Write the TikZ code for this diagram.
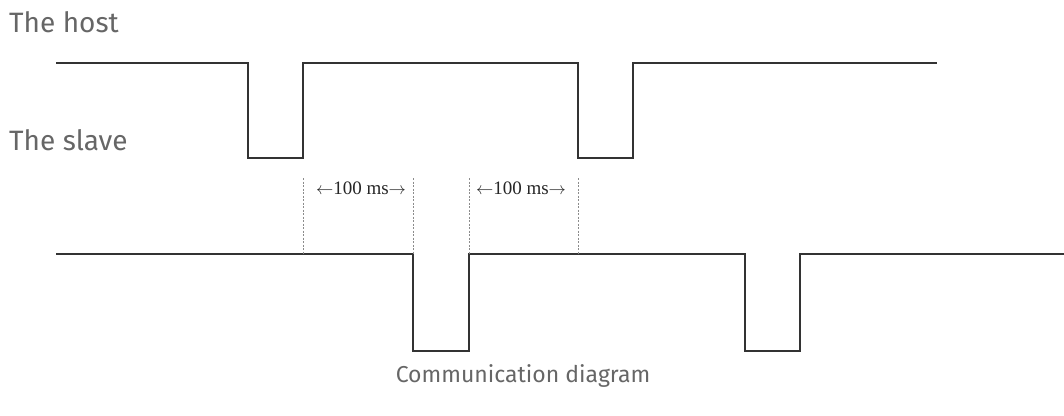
\documentclass[tikz,border=0pt]{standalone}
\usepackage{fontspec}
\setmainfont{Fira Sans}
\newfontfamily\serifnum{Liberation Serif}
\begin{document}
\begin{tikzpicture}[x=1pt,y=-1pt,
  wave/.style={draw=black!80,line width=1.8pt,line join=miter},
  guide/.style={draw=black!45,line width=0.6pt,dash pattern=on 2pt off 1.5pt},
  label/.style={text=black!60,font=\fontsize{28}{32}\selectfont,inner sep=0pt,anchor=base west},
  dur/.style={font=\serifnum\fontsize{19}{21}\selectfont,inner sep=0pt,text=black!85}]
\useasboundingbox (0,0) rectangle (1064,415);
% host waveform
\draw[wave] (56,63) -- (248,63) -- (248,158) -- (303,158) -- (303,63) -- (578,63)
  -- (578,158) -- (633,158) -- (633,63) -- (937,63);
% slave waveform
\draw[wave] (56,254) -- (413,254) -- (413,351) -- (469,351) -- (469,254) -- (745,254)
  -- (745,351) -- (800,351) -- (800,254) -- (1064,254);
% guides
\foreach \x in {303,413,469,578}
  \draw[guide] (\x,178) -- (\x,254);
% durations
\node[dur] (d1) at (361,188) {$\leftarrow$100 ms$\rightarrow$};
\node[dur] (d2) at (521,188) {$\leftarrow$100 ms$\rightarrow$};
% labels
\node[label] (host) at (9,32) {The host};
\node[label] (slave) at (9,150) {The slave};
\node[text=black!60,font=\fontsize{23}{26}\selectfont,inner sep=0pt,anchor=base] (cap) at (523,382) {Communication diagram};
\end{tikzpicture}
\end{document}
